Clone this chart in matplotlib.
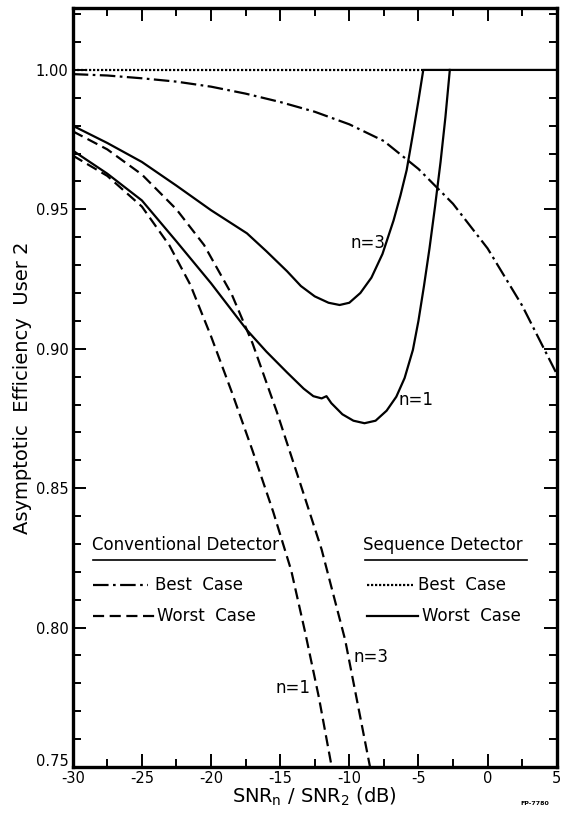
"""Asymptotic efficiency of user 2 vs relative SNR, conventional and sequence detectors."""
import matplotlib
matplotlib.use("Agg")
from matplotlib import pyplot as plt
from matplotlib.lines import Line2D
from matplotlib.transforms import ScaledTranslation

# Sequence detector, best case (dotted, sits on 1.00)
seq_best_x = [-30, -4.65]
seq_best_y = [1.0, 1.0]

# Sequence detector, worst case, n=3
seq3_x = [-30, -27.5, -25, -22.5, -20, -17.4, -16, -14.5, -13.5, -12.5, -11.5,
          -10.7, -10, -9.2, -8.4, -7.6, -6.8, -6.3, -5.85, -5.4, -5.0, -4.65, 5]
seq3_y = [0.980, 0.9738, 0.967, 0.9585, 0.9497, 0.9414, 0.935, 0.9278, 0.9225,
          0.9188, 0.9165, 0.9157, 0.9165, 0.920, 0.9255, 0.934, 0.946, 0.955,
          0.9641, 0.977, 0.989, 1.000, 1.000]

# Sequence detector, worst case, n=1
seq1_x = [-30, -27.5, -25, -22.5, -20, -17.4, -16, -14.5, -13.3, -12.6, -12.0,
          -11.65, -11.3, -10.5, -9.7, -8.9, -8.1, -7.3, -6.6, -6.0, -5.4, -5.0,
          -4.6, -4.2, -3.8, -3.4, -3.05, -2.73]
seq1_y = [0.9711, 0.9628, 0.9532, 0.9385, 0.9235, 0.9067, 0.899, 0.8915, 0.8857,
          0.8830, 0.8822, 0.8830, 0.8805, 0.8765, 0.8742, 0.8733, 0.8742, 0.8778,
          0.8828, 0.8895, 0.8996, 0.910, 0.9225, 0.936, 0.951, 0.967, 0.983, 1.0]

# Conventional detector, best case
conv_best_x = [-30, -27.5, -25, -22.5, -20, -17.5, -15, -12.5, -10, -7.5, -5,
               -2.5, 0, 2.5, 5]
conv_best_y = [0.9985, 0.998, 0.997, 0.9958, 0.994, 0.9915, 0.9885, 0.985,
               0.9805, 0.9745, 0.9645, 0.952, 0.936, 0.9155, 0.891]

# Conventional detector, worst case, n=1
conv1_x = [-30, -27.5, -25, -23, -21.5, -20, -18.5, -17, -15.5, -14.2, -13.2,
           -12.2, -11.27]
conv1_y = [0.9693, 0.962, 0.951, 0.937, 0.923, 0.9045, 0.8845, 0.8635, 0.8415,
           0.8205, 0.7985, 0.775, 0.75]

# Conventional detector, worst case, n=3
conv3_x = [-30, -27.5, -25, -22.5, -20.5, -18.5, -17, -15.25, -13.5, -12,
           -10.3, -8.5]
conv3_y = [0.978, 0.9715, 0.9625, 0.950, 0.9372, 0.9195, 0.902, 0.8775, 0.851,
           0.828, 0.7956, 0.75]

x_major = [-30, -25, -20, -15, -10, -5, 0, 5]
y_major = [0.75, 0.80, 0.85, 0.90, 0.95, 1.00]

plt.rcParams["font.family"] = ["DejaVu Sans"]

fig = plt.figure(figsize=(5.62, 8.14), dpi=100)
ax = fig.add_axes([0.1294, 0.0577, 0.8612, 0.9321])

lw = 1.6
dash = (0, (5, 2.5))
dashdot = (0, (7, 2, 1.2, 2))
dotted = (0, (1, 0.8))

ax.plot(seq_best_x, seq_best_y, color="black", lw=lw, ls=dotted)
ax.plot(seq3_x, seq3_y, color="black", lw=lw, ls="-")
ax.plot(seq1_x, seq1_y, color="black", lw=lw, ls="-")
ax.plot(conv_best_x, conv_best_y, color="black", lw=lw, ls=dashdot)
ax.plot(conv1_x, conv1_y, color="black", lw=lw, ls=dash)
ax.plot(conv3_x, conv3_y, color="black", lw=lw, ls=dash)

# curve labels
ax.text(-8.65, 0.938, "n=3", fontsize=12, ha="center", va="center")
ax.text(-5.2, 0.8816, "n=1", fontsize=12, ha="center", va="center")
ax.text(-8.4, 0.7895, "n=3", fontsize=12, ha="center", va="center")
ax.text(-14.1, 0.7783, "n=1", fontsize=12, ha="center", va="center")

ax.set_xlim(-30, 5)
ax.set_ylim(0.75, 1.0221)
ax.set_xticks(x_major)
ax.set_xticklabels([str(v) for v in x_major])
ax.set_xticks([v + 2.5 for v in x_major[:-1]], minor=True)
ax.set_yticks(y_major)
ax.set_yticklabels(["0.75", "0.80", "0.85", "0.90", "0.95", "1.00"])
ax.set_yticks([0.75 + 0.01 * i for i in range(28)], minor=True)
ax.tick_params(which="both", direction="in", top=True, right=True, width=1.4,
               labelsize=10.5)
ax.tick_params(which="major", length=9.5)
ax.tick_params(which="minor", length=5.5)
ax.tick_params(axis="x", pad=3)
ax.tick_params(axis="y", pad=3)
for s in ax.spines.values():
    s.set_linewidth(2.4)

# lift the bottom y label a little so it clears "-30"
lbl = ax.get_yticklabels()[0]
lbl.set_transform(lbl.get_transform() + ScaledTranslation(0, 5 / 72, fig.dpi_scale_trans))

ax.set_xlabel(r"SNR$_{\rm n}$ / SNR$_2$ (dB)", fontsize=14, labelpad=0)
ax.set_ylabel("Asymptotic  Efficiency  User 2", fontsize=14, labelpad=3)

# legend block, drawn in axes coordinates
tr = ax.transAxes
ax.text(0.039, 0.2926, "Conventional Detector", transform=tr, fontsize=12,
        va="center", ha="left")
ax.add_line(Line2D([0.042, 0.418], [0.2728, 0.2728], transform=tr, color="black", lw=1.2))
ax.add_line(Line2D([0.042, 0.156], [0.2399, 0.2399], transform=tr, color="black",
                   lw=lw, ls=dashdot))
ax.text(0.170, 0.2399, "Best  Case", transform=tr, fontsize=12, va="center")
ax.add_line(Line2D([0.042, 0.170], [0.199, 0.199], transform=tr, color="black",
                   lw=lw, ls=dash))
ax.text(0.1735, 0.199, "Worst  Case", transform=tr, fontsize=12, va="center")

ax.text(0.600, 0.2926, "Sequence Detector", transform=tr, fontsize=12,
        va="center", ha="left")
ax.add_line(Line2D([0.6047, 0.9393], [0.2728, 0.2728], transform=tr, color="black", lw=1.2))
ax.add_line(Line2D([0.608, 0.703], [0.2399, 0.2399], transform=tr, color="black",
                   lw=lw, ls=dotted))
ax.text(0.7134, 0.2399, "Best  Case", transform=tr, fontsize=12, va="center")
ax.add_line(Line2D([0.608, 0.7134], [0.199, 0.199], transform=tr, color="black",
                   lw=lw, ls="-"))
ax.text(0.7217, 0.199, "Worst  Case", transform=tr, fontsize=12, va="center")

fig.text(0.952, 0.013, "FP-7780", fontsize=4.5, ha="center", va="center",
         weight="bold")

fig.savefig("out.png", dpi=100)
